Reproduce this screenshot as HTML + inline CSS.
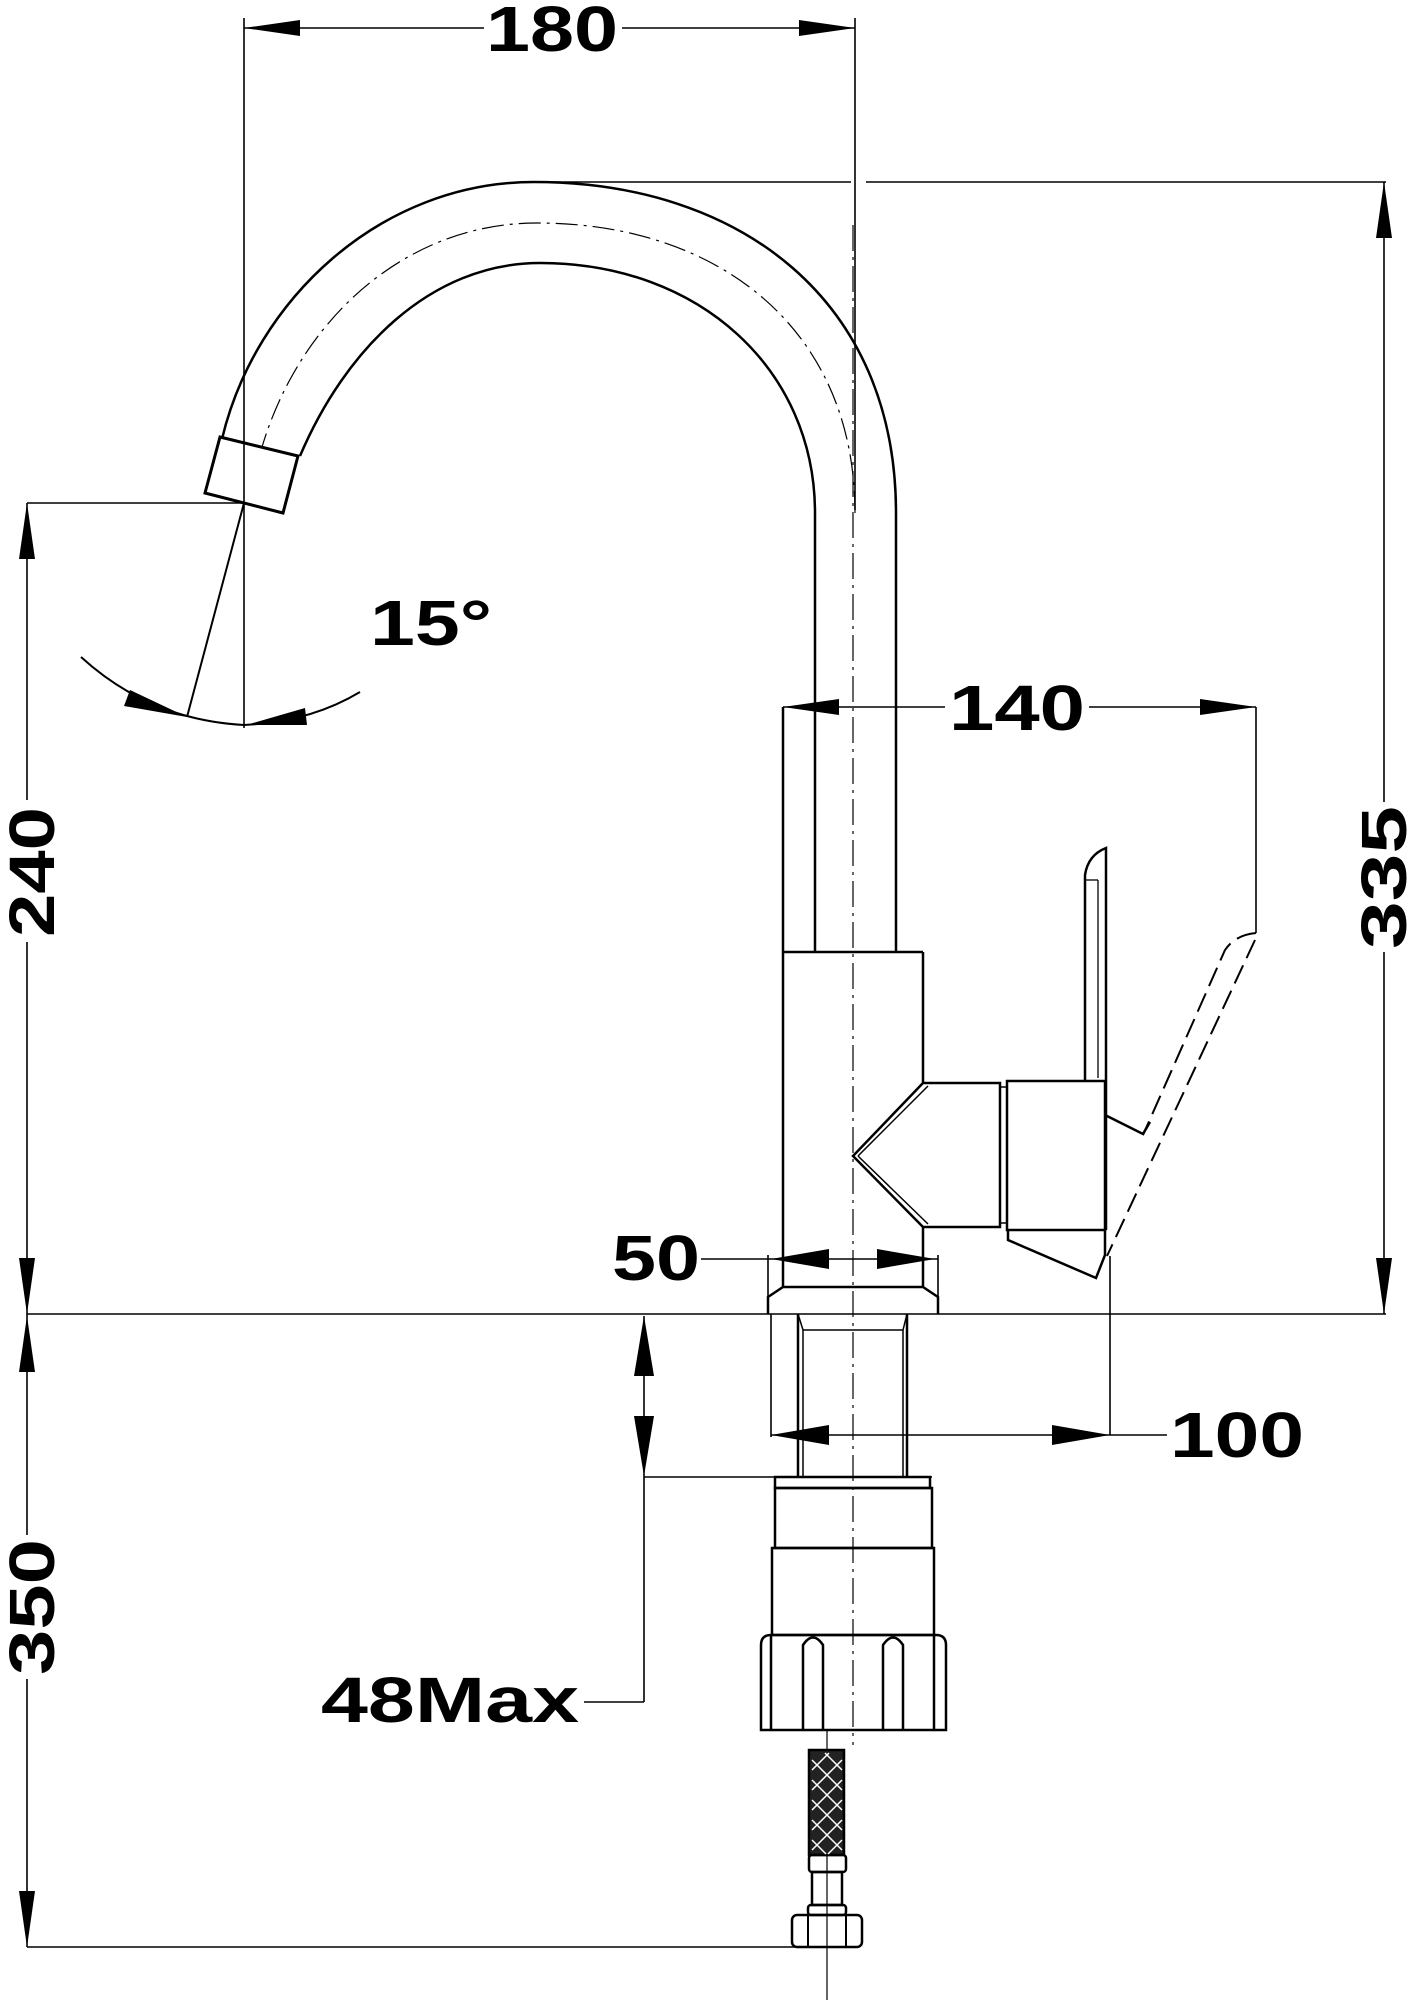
<!DOCTYPE html>
<html><head><meta charset="utf-8"><style>
html,body{margin:0;padding:0;background:#fff}
svg{display:block}
text{font-family:"Liberation Sans",sans-serif;font-weight:bold;fill:#000}
</style></head><body>
<svg width="1414" height="2000" viewBox="0 0 1414 2000" xmlns="http://www.w3.org/2000/svg">
<g fill="none" stroke="#000" stroke-width="2">
<!-- centerline -->
<line x1="853" y1="225" x2="853" y2="1745" stroke-width="1.2" stroke-dasharray="26 6 3 6"/>
<line x1="827" y1="1730" x2="827" y2="2000" stroke-width="1.2"/>
<!-- spout -->
<path d="M896,513 L896,952 M815,513 L815,952" stroke-width="2.5"/>
<path d="M896,513 C896,300 740,182 534,182 C380,182 255,300 222,439" stroke-width="2.5"/>
<path d="M815,513 C815,370 700,263 540,263 C430,263 345,350 300,456" stroke-width="2.5"/>
<path d="M855,513 C855,330 720,223 537,223 C405,223 300,320 262,447" stroke-width="1.2" stroke-dasharray="22 6 3 6"/>
<!-- nozzle -->
<polygon points="220,437 298,456 283,513 205,493" stroke-width="3"/>
<line x1="244" y1="503" x2="187" y2="717" stroke-width="2"/>
<!-- 15 deg -->
<line x1="244" y1="18" x2="244" y2="728" stroke-width="1.6"/>
<path d="M81,657 Q150,720 244,725 Q310,722 360,692" stroke-width="2"/>
<!-- top ext -->
<line x1="534" y1="182" x2="851" y2="182" stroke-width="1.6"/>
<line x1="866" y1="182" x2="1386" y2="182" stroke-width="1.6"/>
<line x1="855" y1="18" x2="855" y2="510" stroke-width="1.6"/>
<!-- 180 -->
<line x1="244" y1="28" x2="855" y2="28" stroke-width="1.6"/>
<!-- right 335 -->
<line x1="1384" y1="182" x2="1384" y2="1314" stroke-width="1.6"/>
<!-- baseline -->
<line x1="27" y1="1314" x2="1386" y2="1314" stroke-width="1.6"/>
<!-- left dims -->
<line x1="27" y1="503" x2="244" y2="503" stroke-width="1.6"/>
<line x1="27" y1="503" x2="27" y2="1947" stroke-width="1.6"/>
<line x1="27" y1="1947" x2="800" y2="1947" stroke-width="1.6"/>
<!-- body -->
<path d="M783,707 L783,1287 M923,952 L923,1083 M923,1227 L923,1287" stroke-width="2.5"/>
<line x1="783" y1="952" x2="923" y2="952" stroke-width="2.5"/>
<!-- 140 -->
<line x1="783" y1="707" x2="1256" y2="707" stroke-width="1.6"/>
<line x1="1256" y1="707" x2="1256" y2="933" stroke-width="1.6"/>
<!-- hex connector -->
<polygon points="923,1083 1000,1083 1000,1227 923,1227 853,1156" stroke-width="2.5"/>
<line x1="928" y1="1086" x2="858" y2="1156" stroke-width="1.5"/>
<line x1="928" y1="1224" x2="858" y2="1156" stroke-width="1.5"/>
<rect x="1000" y="1087" width="7" height="136" stroke-width="1.5"/>
<rect x="1007" y="1081" width="98" height="149" stroke-width="2.5"/>
<path d="M1008,1231 L1008,1240 L1096,1278 L1105,1255 L1105,1230" stroke-width="2.5"/>
<path d="M1105,1115 L1143,1134 L1150,1122" stroke-width="2.5"/>
<!-- handle -->
<path d="M1085,1080 L1085,875 Q1088,855 1106,848 L1106,1230" stroke-width="2.5"/>
<line x1="1098" y1="880" x2="1098" y2="1078" stroke-width="1.3"/>
<line x1="1085" y1="880" x2="1098" y2="880" stroke-width="1.3"/>
<!-- dashed lever -->
<path d="M1256,933 Q1235,935 1225,950 L1143,1135" stroke-width="2" stroke-dasharray="20 8"/>
<path d="M1255,940 L1107,1256" stroke-width="2" stroke-dasharray="20 8"/>
<!-- 100 ext -->
<line x1="1110" y1="1256" x2="1110" y2="1435" stroke-width="1.6"/>
<line x1="771" y1="1435" x2="1167" y2="1435" stroke-width="1.6"/>
<line x1="771" y1="1314" x2="771" y2="1437" stroke-width="1.6"/>
<!-- flange -->
<path d="M768,1314 L768,1297 L783,1287 L923,1287 L938,1297 L938,1314" stroke-width="2.5"/>
<line x1="768" y1="1255" x2="768" y2="1297" stroke-width="1.6"/>
<line x1="938" y1="1255" x2="938" y2="1297" stroke-width="1.6"/>
<line x1="701" y1="1259" x2="938" y2="1259" stroke-width="1.6"/>
<!-- shank -->
<path d="M798,1314 L798,1477 M907,1314 L907,1477" stroke-width="2.5"/>
<path d="M803,1330 L803,1477 M903,1330 L903,1477 M798,1314 L803,1330 L903,1330 L907,1314" stroke-width="1.5"/>
<!-- 48max -->
<line x1="644" y1="1316" x2="644" y2="1702" stroke-width="1.6"/>
<line x1="644" y1="1477" x2="932" y2="1477" stroke-width="1.6"/>
<line x1="584" y1="1702" x2="644" y2="1702" stroke-width="1.6"/>
<!-- nut stack -->
<rect x="775" y="1477" width="155" height="11" stroke-width="2.5"/>
<rect x="775" y="1488" width="157" height="60" stroke-width="2.5"/>
<rect x="772" y="1548" width="162" height="87" stroke-width="2.5"/>
<path d="M761,1730 L761,1645 Q761,1635 771,1635 L936,1635 Q946,1635 946,1645 L946,1730 Z" stroke-width="2.5"/>
<path d="M771,1635 L771,1730 M934,1635 L934,1730 M803,1730 L803,1645 Q813,1630 823,1645 L823,1730 M883,1730 L883,1645 Q893,1630 903,1645 L903,1730" stroke-width="2.5"/>
<!-- hose -->
<rect x="809" y="1750" width="35" height="105" fill="#222" stroke-width="2.5"/>
<rect x="809" y="1855" width="37" height="17" rx="3" stroke-width="2.5"/>
<rect x="812" y="1872" width="30" height="33" stroke-width="2.5"/>
<rect x="808" y="1905" width="38" height="10" rx="3" stroke-width="2.5"/>
<rect x="792" y="1915" width="70" height="32" rx="5" stroke-width="2.5"/>
<path d="M808,1915 L808,1947 M846,1915 L846,1947" stroke-width="2"/>
</g>
<g stroke="#fff" stroke-width="1.5">
<path d="M812,1760 l30,30 M812,1780 l30,30 M812,1800 l30,30 M812,1820 l30,30 M812,1840 l14,14 M825,1753 l17,17 M842,1760 l-30,30 M842,1780 l-30,30 M842,1800 l-30,30 M842,1820 l-30,30 M842,1840 l-14,14 M829,1753 l-17,17"/>
</g>
<!-- arrowheads -->
<g fill="#000">
<polygon points="244,28 300,20 300,36"/>
<polygon points="855,28 799,20 799,36"/>
<polygon points="1384,182 1376,238 1392,238"/>
<polygon points="1384,1314 1376,1258 1392,1258"/>
<polygon points="27,503 19,559 35,559"/>
<polygon points="27,1314 19,1258 35,1258"/>
<polygon points="27,1316 19,1372 35,1372"/>
<polygon points="27,1947 19,1891 35,1891"/>
<polygon points="783,707 839,699 839,715"/>
<polygon points="1256,707 1200,699 1200,715"/>
<polygon points="771,1259 829,1249 829,1269"/>
<polygon points="935,1259 877,1249 877,1269"/>
<polygon points="771,1435 829,1425 829,1445"/>
<polygon points="1110,1435 1052,1425 1052,1445"/>
<polygon points="644,1316 634,1376 654,1376"/>
<polygon points="644,1476 634,1416 654,1416"/>
<polygon points="187,717 130,690 124,706"/>
<polygon points="246,725 305,708 307,725"/>
</g>
<!-- labels -->
<g font-size="64">
<rect x="484" y="4" width="138" height="50" fill="#fff"/>
<text x="486" y="51" textLength="132" lengthAdjust="spacingAndGlyphs">180</text>
<rect x="945" y="684" width="144" height="48" fill="#fff"/>
<text x="949" y="730" textLength="136" lengthAdjust="spacingAndGlyphs">140</text>
<text x="370" y="645" textLength="122" lengthAdjust="spacingAndGlyphs">15°</text>
<text x="612" y="1280" textLength="88" lengthAdjust="spacingAndGlyphs">50</text>
<text x="1170" y="1457" textLength="134" lengthAdjust="spacingAndGlyphs">100</text>
<text x="321" y="1722" textLength="258" lengthAdjust="spacingAndGlyphs">48Max</text>
<rect x="5" y="800" width="46" height="142" fill="#fff"/>
<text transform="translate(54,937) rotate(-90)" textLength="130" lengthAdjust="spacingAndGlyphs">240</text>
<rect x="5" y="1535" width="46" height="144" fill="#fff"/>
<text transform="translate(54,1675) rotate(-90)" textLength="136" lengthAdjust="spacingAndGlyphs">350</text>
<rect x="1356" y="802" width="52" height="150" fill="#fff"/>
<text transform="translate(1406,949) rotate(-90)" textLength="143" lengthAdjust="spacingAndGlyphs">335</text>
</g>
</svg>
</body></html>
